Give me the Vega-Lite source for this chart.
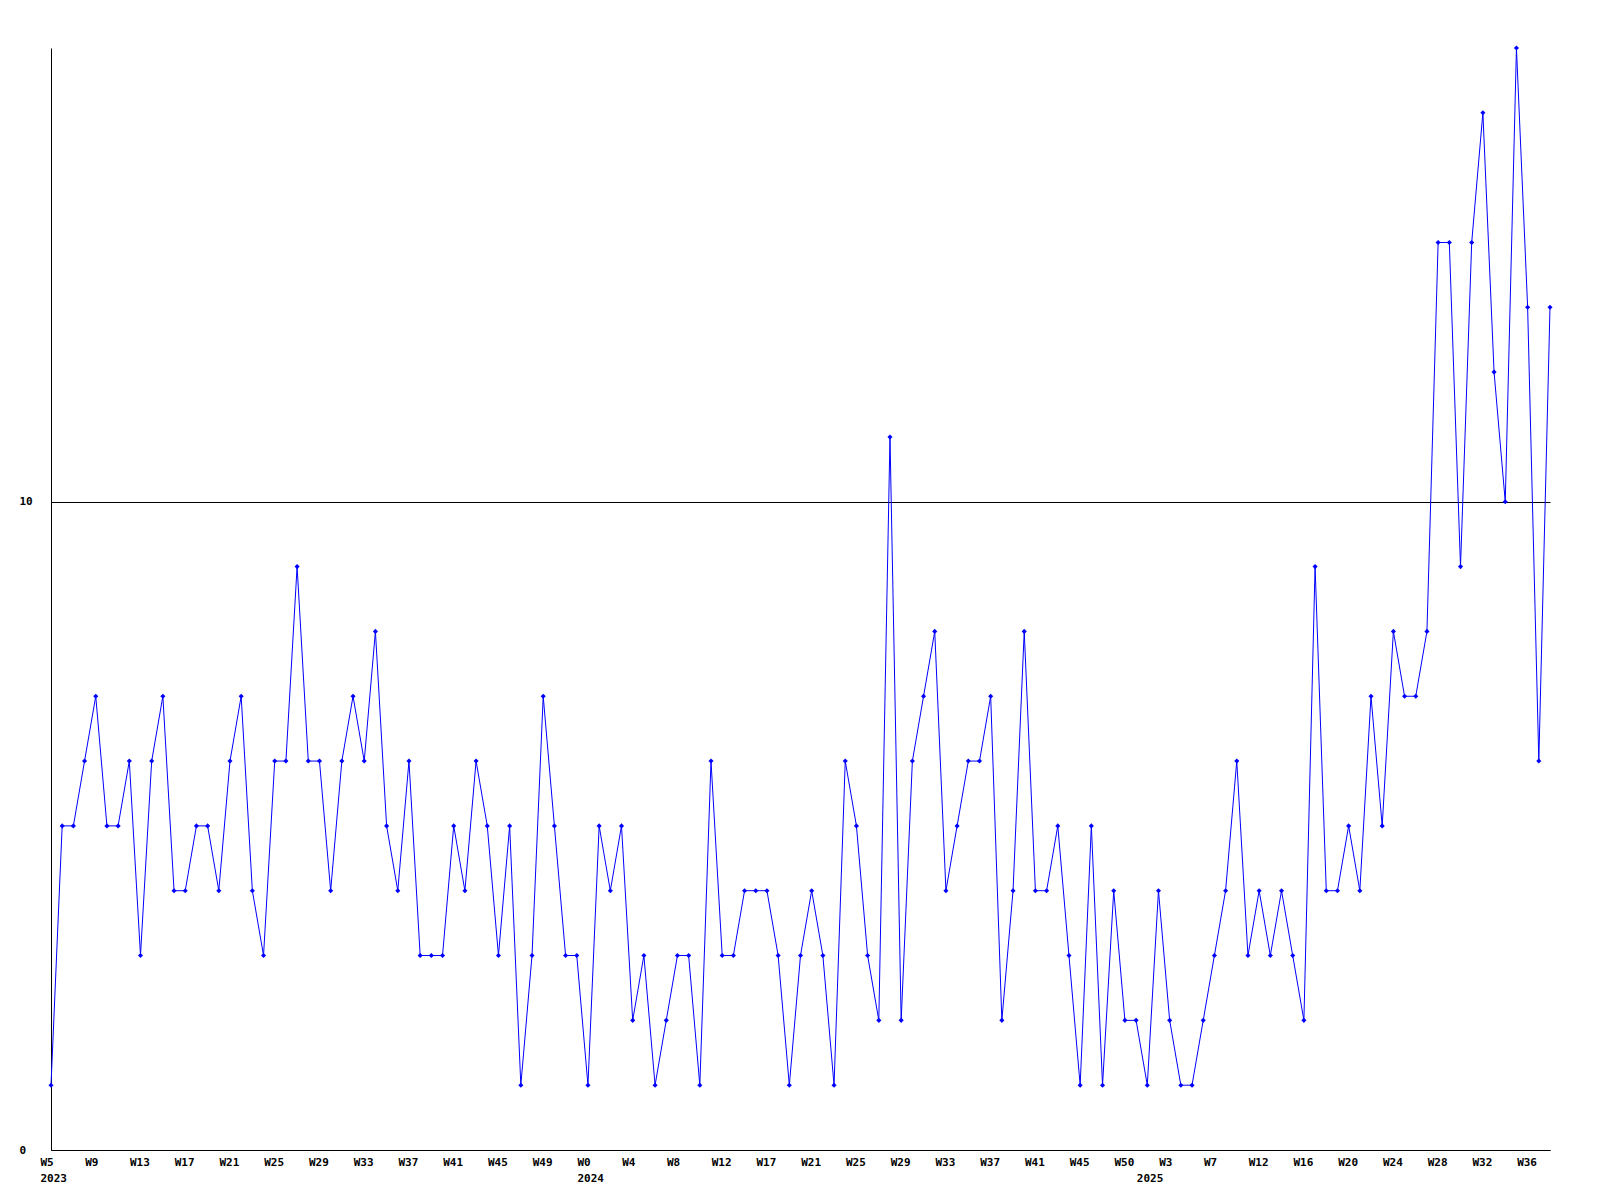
{
  "$schema": "https://vega.github.io/schema/vega-lite/v6.json",
  "autosize": {"type": "none"},
  "padding": {"left": 51, "top": 48, "right": 50, "bottom": 50},
  "width": 1499,
  "height": 1102,
  "background": "white",
  "config": {"view": {"stroke": null}},
  "data": {"values": [
    {"i":0,"v":1},{"i":1,"v":5},{"i":2,"v":5},{"i":3,"v":6},{"i":4,"v":7},{"i":5,"v":5},{"i":6,"v":5},{"i":7,"v":6},{"i":8,"v":3},{"i":9,"v":6},
    {"i":10,"v":7},{"i":11,"v":4},{"i":12,"v":4},{"i":13,"v":5},{"i":14,"v":5},{"i":15,"v":4},{"i":16,"v":6},{"i":17,"v":7},{"i":18,"v":4},{"i":19,"v":3},
    {"i":20,"v":6},{"i":21,"v":6},{"i":22,"v":9},{"i":23,"v":6},{"i":24,"v":6},{"i":25,"v":4},{"i":26,"v":6},{"i":27,"v":7},{"i":28,"v":6},{"i":29,"v":8},
    {"i":30,"v":5},{"i":31,"v":4},{"i":32,"v":6},{"i":33,"v":3},{"i":34,"v":3},{"i":35,"v":3},{"i":36,"v":5},{"i":37,"v":4},{"i":38,"v":6},{"i":39,"v":5},
    {"i":40,"v":3},{"i":41,"v":5},{"i":42,"v":1},{"i":43,"v":3},{"i":44,"v":7},{"i":45,"v":5},{"i":46,"v":3},{"i":47,"v":3},{"i":48,"v":1},{"i":49,"v":5},
    {"i":50,"v":4},{"i":51,"v":5},{"i":52,"v":2},{"i":53,"v":3},{"i":54,"v":1},{"i":55,"v":2},{"i":56,"v":3},{"i":57,"v":3},{"i":58,"v":1},{"i":59,"v":6},
    {"i":60,"v":3},{"i":61,"v":3},{"i":62,"v":4},{"i":63,"v":4},{"i":64,"v":4},{"i":65,"v":3},{"i":66,"v":1},{"i":67,"v":3},{"i":68,"v":4},{"i":69,"v":3},
    {"i":70,"v":1},{"i":71,"v":6},{"i":72,"v":5},{"i":73,"v":3},{"i":74,"v":2},{"i":75,"v":11},{"i":76,"v":2},{"i":77,"v":6},{"i":78,"v":7},{"i":79,"v":8},
    {"i":80,"v":4},{"i":81,"v":5},{"i":82,"v":6},{"i":83,"v":6},{"i":84,"v":7},{"i":85,"v":2},{"i":86,"v":4},{"i":87,"v":8},{"i":88,"v":4},{"i":89,"v":4},
    {"i":90,"v":5},{"i":91,"v":3},{"i":92,"v":1},{"i":93,"v":5},{"i":94,"v":1},{"i":95,"v":4},{"i":96,"v":2},{"i":97,"v":2},{"i":98,"v":1},{"i":99,"v":4},
    {"i":100,"v":2},{"i":101,"v":1},{"i":102,"v":1},{"i":103,"v":2},{"i":104,"v":3},{"i":105,"v":4},{"i":106,"v":6},{"i":107,"v":3},{"i":108,"v":4},{"i":109,"v":3},
    {"i":110,"v":4},{"i":111,"v":3},{"i":112,"v":2},{"i":113,"v":9},{"i":114,"v":4},{"i":115,"v":4},{"i":116,"v":5},{"i":117,"v":4},{"i":118,"v":7},{"i":119,"v":5},
    {"i":120,"v":8},{"i":121,"v":7},{"i":122,"v":7},{"i":123,"v":8},{"i":124,"v":14},{"i":125,"v":14},{"i":126,"v":9},{"i":127,"v":14},{"i":128,"v":16},{"i":129,"v":12},
    {"i":130,"v":10},{"i":131,"v":17},{"i":132,"v":13},{"i":133,"v":6},{"i":134,"v":13}
  ]},
  "encoding": {
    "x": {
      "field": "i", "type": "quantitative",
      "scale": {"domain": [0, 134], "nice": false, "zero": false},
      "axis": {
        "title": null,
        "values": [0,4,8,12,16,20,24,28,32,36,40,44,48,52,56,60,64,68,72,76,80,84,88,92,96,98,100,104,108,112,116,120,124,128,132],
        "labelExpr": "datum.value == 0 ? ['W5','2023'] : datum.value == 48 ? ['W0','2024'] : datum.value == 98 ? [' ','2025'] : ['W5','W9','W13','W17','W21','W25','W29','W33','W37','W41','W45','W49','W0','W4','W8','W12','W17','W21','W25','W29','W33','W37','W41','W45','W50','W3','W7','W12','W16','W20','W24','W28','W32','W36'][datum.value/4]",
        "ticks": false,
        "grid": false,
        "domainColor": "black",
        "domainWidth": 1,
        "labelAlign": "left",
        "labelOffset": -11,
        "labelBaseline": "top",
        "labelPadding": 6,
        "labelLineHeight": 16,
        "labelOverlap": false,
        "labelFlush": false,
        "labelFont": "DejaVu Sans Mono",
        "labelFontWeight": "bold",
        "labelFontSize": 11,
        "labelColor": "black"
      }
    },
    "y": {
      "field": "v", "type": "quantitative",
      "scale": {"domain": [0, 17], "nice": false, "zero": true},
      "axis": {
        "title": null,
        "values": [0, 10],
        "ticks": false,
        "grid": true,
        "gridColor": "black",
        "gridWidth": 1,
        "gridOpacity": 1,
        "domainColor": "black",
        "domainWidth": 1,
        "labelAlign": "left",
        "labelBaseline": "middle",
        "labelPadding": 32,
        "labelFont": "DejaVu Sans Mono",
        "labelFontWeight": "bold",
        "labelFontSize": 11,
        "labelColor": "black"
      }
    }
  },
  "layer": [
    {"mark": {"type": "line", "color": "#0000ff", "strokeWidth": 1}},
    {"mark": {"type": "point", "shape": "diamond", "filled": true, "size": 26, "color": "#0000ff", "opacity": 1}}
  ]
}
